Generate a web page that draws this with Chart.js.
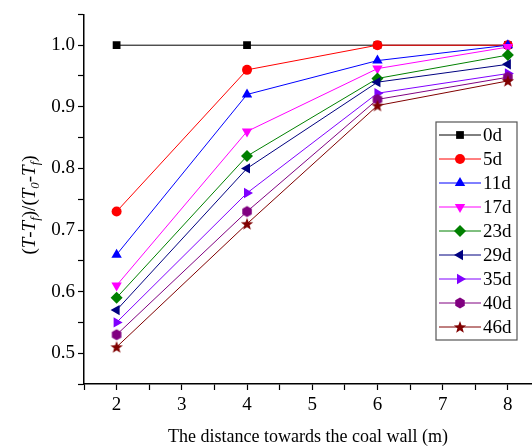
<!DOCTYPE html>
<html>
<head>
<meta charset="utf-8">
<script src="https://cdn.jsdelivr.net/npm/chart.js@4/dist/chart.umd.min.js"></script>
<style>
  body { margin: 0; background: #fff; overflow: hidden; }
  #wrap { width: 532px; height: 448px; overflow: hidden; }
</style>
</head>
<body>
<div id="wrap"><canvas id="myChart" width="538" height="448"></canvas></div>
<script>
const distance = [2, 4, 6, 8];
const days = ["0d", "5d", "11d", "17d", "23d", "29d", "35d", "40d", "46d"];
const d0 = [1.0, 1.0, 1.0, 1.0];
const d5 = [0.73, 0.96, 1.0, 1.0];
const d11 = [0.66, 0.92, 0.975, 1.0];
const d17 = [0.61, 0.86, 0.962, 0.997];
const d23 = [0.59, 0.82, 0.946, 0.984];
const d29 = [0.57, 0.8, 0.94, 0.969];
const d35 = [0.55, 0.76, 0.922, 0.954];
const d40 = [0.53, 0.73, 0.912, 0.948];
const d46 = [0.51, 0.71, 0.902, 0.942];
const yTicks = [0.5, 0.6, 0.7, 0.8, 0.9, 1.0];
const xTicks = [2, 3, 4, 5, 6, 7, 8];

const FONT = "'Liberation Serif', 'DejaVu Serif', serif";

// little canvases for the hexagon and filled star markers
function makeMarker(color, kind) {
  let c = document.createElement("canvas");
  c.width = 14;
  c.height = 14;
  let g = c.getContext("2d");
  g.fillStyle = color;
  g.beginPath();
  if (kind == "hex") {
    for (let i = 0; i < 6; i++) {
      let a = Math.PI / 2 + (i * Math.PI) / 3;
      g.lineTo(7 + 5.5 * Math.cos(a), 7 + 5.5 * Math.sin(a));
    }
  } else {
    for (let i = 0; i < 10; i++) {
      let r = i % 2 == 0 ? 6.5 : 2.7;
      let a = -Math.PI / 2 + (i * Math.PI) / 5;
      g.lineTo(7 + r * Math.cos(a), 7.5 + r * Math.sin(a));
    }
  }
  g.closePath();
  g.fill();
  return c;
}

const series = [d0, d5, d11, d17, d23, d29, d35, d40, d46];
const colors = ["#000000", "#ff0000", "#0000ff", "#ff00ff", "#008000", "#000080", "#8000ff", "#800080", "#800000"];
const styles = ["rect", "circle", "triangle", "triangle", "rectRot", "triangle", "triangle",
  makeMarker("#800080", "hex"), makeMarker("#800000", "star")];
const rotations = [0, 0, 0, 180, 0, -90, 90, 0, 0];
const radii = [5.5, 5, 6, 6, 6, 6, 6, 6, 6];

const datasets = series.map((vals, i) => ({
  label: days[i],
  data: vals.map((v, j) => ({ x: distance[j], y: v })),
  borderColor: colors[i],
  backgroundColor: colors[i],
  borderWidth: 1,
  pointStyle: styles[i],
  pointRotation: rotations[i],
  pointRadius: radii[i],
  pointBorderWidth: 0,
  tension: 0,
  order: series.length - i, // later series on top
}));

// legend box with a line through each marker
const legendBox = {
  id: "legendBox",
  afterDraw(chart) {
    const ctx = chart.ctx;
    ctx.save();
    ctx.strokeStyle = "#555";
    ctx.lineWidth = 1.2;
    ctx.strokeRect(436, 122, 81, 218);
    chart.data.datasets.forEach((ds, i) => {
      let y = 135 + i * 24;
      ctx.strokeStyle = ds.borderColor;
      ctx.lineWidth = 1;
      ctx.beginPath();
      ctx.moveTo(439, y);
      ctx.lineTo(481, y);
      ctx.stroke();
      ctx.fillStyle = ds.backgroundColor;
      Chart.helpers.drawPoint(ctx, {
        pointStyle: ds.pointStyle,
        rotation: ds.pointRotation,
        radius: ds.pointRadius,
        borderWidth: 0,
      }, 460, y);
      ctx.fillStyle = "#000";
      ctx.font = "19px " + FONT;
      ctx.textBaseline = "middle";
      ctx.textAlign = "left";
      ctx.fillText(ds.label, 483, y + 1);
    });
    ctx.restore();
  },
};

// y title with italic T and subscripts
const yTitle = {
  id: "yTitle",
  afterDraw(chart) {
    const ctx = chart.ctx;
    const parts = [
      ["(", "n"], ["T", "i"], ["-", "n"], ["T", "i"], ["f", "s"], [")/(", "n"],
      ["T", "i"], ["0", "s"], ["-", "n"], ["T", "i"], ["f", "s"], [")", "n"],
    ];
    const fontOf = (k) => k == "n" ? "19px " + FONT : k == "i" ? "italic 19px " + FONT : "italic 13px " + FONT;
    ctx.save();
    let total = 0;
    parts.forEach((p) => { ctx.font = fontOf(p[1]); total += ctx.measureText(p[0]).width; });
    ctx.translate(29, 205);
    ctx.rotate(-Math.PI / 2);
    ctx.fillStyle = "#000";
    ctx.textBaseline = "alphabetic";
    let x = -total / 2;
    parts.forEach((p) => {
      ctx.font = fontOf(p[1]);
      ctx.fillText(p[0], x, p[1] == "s" ? 10 : 6);
      x += ctx.measureText(p[0]).width;
    });
    ctx.restore();
  },
};

const ctx = document.getElementById("myChart").getContext("2d");
const myChart = new Chart(ctx, {
  type: "line",
  data: { datasets: datasets },
  options: {
    responsive: false,
    animation: false,
    layout: { padding: { top: 12, right: 0, left: 0, bottom: 0 } },
    plugins: {
      legend: { display: false },
      tooltip: { enabled: false },
    },
    scales: {
      x: {
        type: "linear",
        min: 1.5,
        max: 8.37,
        afterFit(scale) {
          scale.height = 64;
        },
        border: { display: true, color: "#000", width: 1.5 },
        grid: { drawOnChartArea: false, drawTicks: true, tickLength: 6, color: "#000", tickWidth: 1.2 },
        ticks: {
          stepSize: 0.5,
          includeBounds: false,
          autoSkip: false,
          maxRotation: 0,
          padding: 4,
          color: "#000",
          font: { family: FONT, size: 19 },
          callback: (v) => xTicks.includes(v) ? String(v) : "",
        },
        title: {
          display: true,
          text: "The distance towards the coal wall (m)",
          color: "#000",
          font: { family: FONT, size: 18 },
          padding: { top: 0, bottom: 0 },
        },
      },
      y: {
        min: 0.45,
        max: 1.05,
        afterFit(scale) { scale.width = 84; },
        border: { display: true, color: "#000", width: 1.5 },
        grid: { drawOnChartArea: false, drawTicks: true, tickLength: 6, color: "#000", tickWidth: 1.2 },
        ticks: {
          stepSize: 0.05,
          autoSkip: false,
          padding: 3,
          color: "#000",
          font: { family: FONT, size: 19 },
          callback: (v) => {
            let r = Math.round(v * 10) / 10;
            return Math.abs(v - r) < 1e-6 && yTicks.includes(r) ? r.toFixed(1) : "";
          },
        },
      },
    },
  },
  plugins: [legendBox, yTitle],
});
</script>
</body>
</html>
